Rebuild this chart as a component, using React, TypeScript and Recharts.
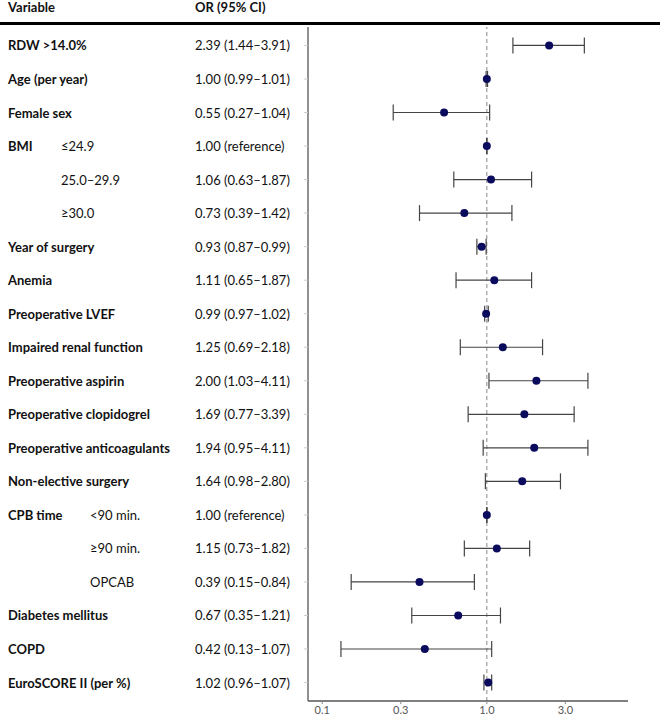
import React from 'react';
import { ScatterChart, Scatter, XAxis, YAxis, ErrorBar, ReferenceLine } from 'recharts';

// table rows, top to bottom
const variables = [
  'RDW >14.0%', 'Age (per year)', 'Female sex', 'BMI', '', '', 'Year of surgery', 'Anemia',
  'Preoperative LVEF', 'Impaired renal function', 'Preoperative aspirin', 'Preoperative clopidogrel',
  'Preoperative anticoagulants', 'Non-elective surgery', 'CPB time', '', '', 'Diabetes mellitus',
  'COPD', 'EuroSCORE II (per %)',
];
const levels = [
  '', '', '', '≤24.9', '25.0–29.9', '≥30.0', '', '', '', '', '', '', '', '',
  '<90 min.', '≥90 min.', 'OPCAB', '', '', '',
];
const oddsRatios = [2.39, 1.0, 0.55, 1.0, 1.06, 0.73, 0.93, 1.11, 0.99, 1.25, 2.0, 1.69, 1.94, 1.64, 1.0, 1.15, 0.39, 0.67, 0.42, 1.02];
const lower = [1.44, 0.99, 0.27, null, 0.63, 0.39, 0.87, 0.65, 0.97, 0.69, 1.03, 0.77, 0.95, 0.98, null, 0.73, 0.15, 0.35, 0.13, 0.96];
const upper = [3.91, 1.01, 1.04, null, 1.87, 1.42, 0.99, 1.87, 1.02, 2.18, 4.11, 3.39, 4.11, 2.8, null, 1.82, 0.84, 1.21, 1.07, 1.07];
const xTicks = [0.1, 0.3, 1, 3];

const FONT = 'Lato, "Noto Sans", sans-serif';

const data = oddsRatios.map((or, i) => {
  const lo = lower[i] ?? or;
  const hi = upper[i] ?? or;
  return {
    row: i + 1,
    or,
    err: [or - lo, hi - or],
    text: lower[i] == null ? `${or.toFixed(2)} (reference)` : `${or.toFixed(2)} (${lo.toFixed(2)}–${hi.toFixed(2)})`,
    variable: variables[i],
    level: levels[i],
    indent: i >= 14 && i <= 16 ? 90 : 61,
  };
});

const RowLabel = (props: any) => {
  const { y, payload } = props;
  const d = data[payload.value - 1];
  if (!d) return null;
  return (
    <g fontFamily={FONT} fontSize={13} fill="#111">
      {d.variable && (
        <text x={8} y={y} dominantBaseline="central" fontWeight={700} fill="#111">{d.variable}</text>
      )}
      {d.level && (
        <text x={d.indent} y={y} dominantBaseline="central" fill="#111">{d.level}</text>
      )}
      <text x={195} y={y} dominantBaseline="central" fill="#111">{d.text}</text>
    </g>
  );
};

const Dot = (props: any) => <circle cx={props.cx} cy={props.cy} r={4} fill="#0b0b5e" />;

export default function App() {
  return (
    <div style={{ position: 'absolute', left: 0, top: 0, width: 660, height: 720, fontFamily: FONT }}>
      <div style={{ position: 'absolute', left: 8, top: 0, fontSize: 13, fontWeight: 700, lineHeight: '15px', color: '#111' }}>Variable</div>
      <div style={{ position: 'absolute', left: 195, top: 0, fontSize: 13, fontWeight: 700, lineHeight: '15px', color: '#111' }}>OR (95% CI)</div>
      <div style={{ position: 'absolute', left: 0, top: 22, width: 660, height: 2.5, background: '#000' }} />
      <ScatterChart width={660} height={720} margin={{ top: 27, right: 32, bottom: 0, left: 0 }}>
        <XAxis
          type="number"
          dataKey="or"
          scale="log"
          domain={[0.082, 7.2]}
          allowDataOverflow
          ticks={xTicks}
          tickFormatter={(v: number) => v.toFixed(1)}
          height={19}
          tickSize={3}
          tickMargin={2}
          axisLine={{ stroke: '#555', strokeWidth: 1.3 }}
          tickLine={{ stroke: '#888' }}
          tick={{ fontSize: 11, fill: '#555', fontFamily: FONT }}
        />
        <YAxis
          type="number"
          dataKey="row"
          domain={[0.45, 20.55]}
          reversed
          allowDataOverflow
          ticks={data.map((d) => d.row)}
          interval={0}
          width={308}
          tickSize={4}
          tickLine={{ stroke: '#ccc' }}
          axisLine={{ stroke: '#555', strokeWidth: 1.3 }}
          tick={<RowLabel />}
        />
        <ReferenceLine x={1} stroke="#888" strokeDasharray="4 3" />
        <Scatter data={data} shape={<Dot />} isAnimationActive={false}>
          <ErrorBar dataKey="err" direction="x" width={8} stroke="#444" strokeWidth={1.2} />
        </Scatter>
      </ScatterChart>
    </div>
  );
}
